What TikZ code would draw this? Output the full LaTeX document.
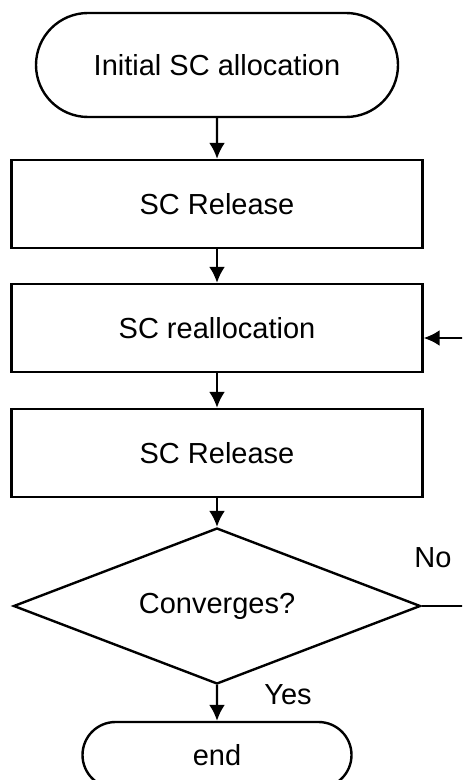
\documentclass[tikz,border=0pt]{standalone}
\usepackage{fontspec}
\setmainfont{Liberation Sans}
\usetikzlibrary{arrows.meta}
\usetikzlibrary{shapes.misc}
\usetikzlibrary{shapes.geometric}
\tikzset{t/.style={font=\fontsize{14.5}{17}\selectfont}}
\tikzset{term/.style={draw, rounded rectangle, line width=1.2pt, inner sep=0pt}}
\tikzset{proc/.style={draw, rectangle, line width=1.2pt, minimum width=205.5pt, minimum height=44pt}}
\tikzset{dec/.style={draw, diamond, shape aspect=2.6, line width=1.2pt, minimum width=203.5pt, minimum height=78pt, inner sep=0pt}}
\tikzset{back/.style={{Latex[length=8pt,width=8pt]}-, line width=1.2pt}}
\tikzset{flow/.style={-{Latex[length=8pt,width=8pt]}, line width=1.2pt}}

\begin{document}
\begin{tikzpicture}[x=0.5pt,y=-0.5pt,t]
          \useasboundingbox (0,0) rectangle (462,780);
          \clip (0,0) rectangle (462,780);
          \node[term, minimum width=181pt, minimum height=52pt] (init) at (217,65) {Initial SC allocation};
          \node[proc] (rel1) at (217,204) {SC Release}
            edge [back] (init);
          \node[proc] (realloc) at (217,328) {SC reallocation}
            edge [back] (rel1);
          \node[proc] (rel2) at (217,453) {SC Release}
            edge [back] (realloc);
          \node[dec] (conv) at (217,606) {Converges?}
            edge [back] (rel2);
          \node[term, minimum width=134.5pt, minimum height=33pt] (stop) at (217,755) {end}
            edge [back] (conv);
          \node (yes) at (288,695) {Yes};
          \node (no) at (433,558) {No};
          % loop back, runs off the right edge
          \coordinate (loop) at (500,606);
          \draw[flow] (conv.east) -- (loop) |- ([yshift=-5pt]realloc.east);
        \end{tikzpicture}
\end{document}
